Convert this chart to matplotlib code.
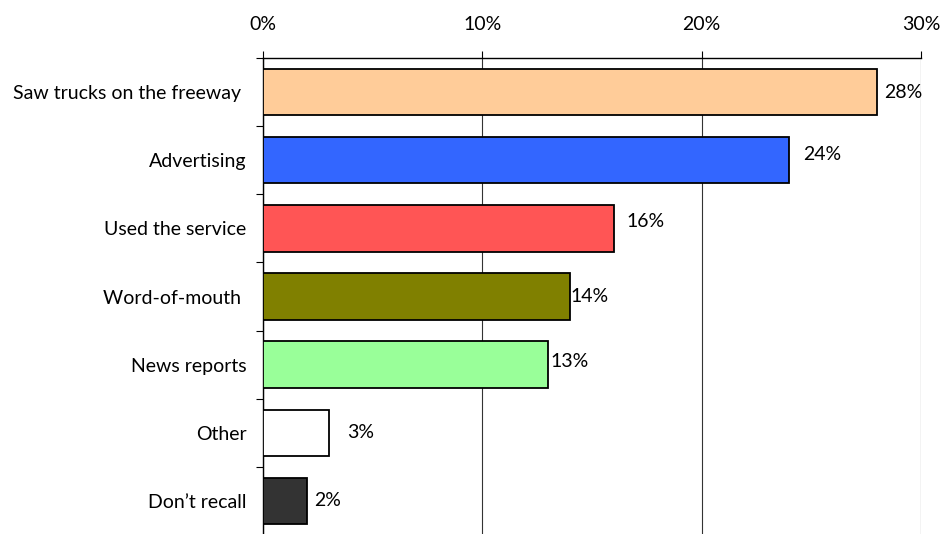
import matplotlib.pyplot as plt
import numpy as np

plt.rcParams['font.family'] = 'Lato'
plt.rcParams['font.size'] = 14

categories = ["Saw trucks on the freeway ", "Advertising", "Used the service",
              "Word-of-mouth ", "News reports", "Other", "Don\u2019t recall"]
values = [28, 24, 16, 14, 13, 3, 2]
bar_colors = ["#FFCC99", "#3366FF", "#FF5555", "#808000", "#99FF99", "#FFFFFF", "#333333"]
x_ticks = [0, 10, 20, 30]
x_ticklabels = ["0%", "10%", "20%", "30%"]

# label offsets in points (dx, dy), Excel put them a bit unevenly
label_offsets = [(5, 0), (10, 4), (9, 5), (0.5, 0), (2, 2), (13, 0), (5, 0)]

fig = plt.figure(figsize=(9.42, 5.34), dpi=100)
ax = fig.add_axes([0.2792, -0.0019, 0.6985, 0.8933])

y = np.arange(len(categories))
ax.barh(y, values, height=0.68, color=bar_colors, edgecolor='black', linewidth=1.3, zorder=3)

for i, v in enumerate(values):
    dx, dy = label_offsets[i]
    ax.annotate(f"{v}%", xy=(v, y[i]), xytext=(dx, dy), textcoords='offset points',
                ha='left', va='center', fontsize=14, zorder=4)

ax.set_xlim(0, 30)
ax.set_ylim(len(categories) - 0.5, -0.5)
ax.xaxis.tick_top()
ax.set_xticks(x_ticks)
ax.set_xticklabels(x_ticklabels)
ax.tick_params(axis='x', direction='out', length=5, width=0.8, pad=13, colors='black')

ax.set_yticks(y)
ax.set_yticklabels(categories)
ax.set_yticks(np.arange(len(categories)) - 0.5, minor=True)
ax.tick_params(axis='y', which='major', length=0, pad=12)
ax.tick_params(axis='y', which='minor', direction='out', length=5, width=0.8)

ax.grid(axis='x', color='#333333', linewidth=0.8, zorder=0)
ax.grid(axis='y', visible=False)
ax.spines['bottom'].set_visible(False)
ax.spines['right'].set_visible(False)
ax.spines['top'].set_linewidth(1.0)
ax.spines['left'].set_linewidth(1.0)

fig.savefig("out.png", dpi=100)
